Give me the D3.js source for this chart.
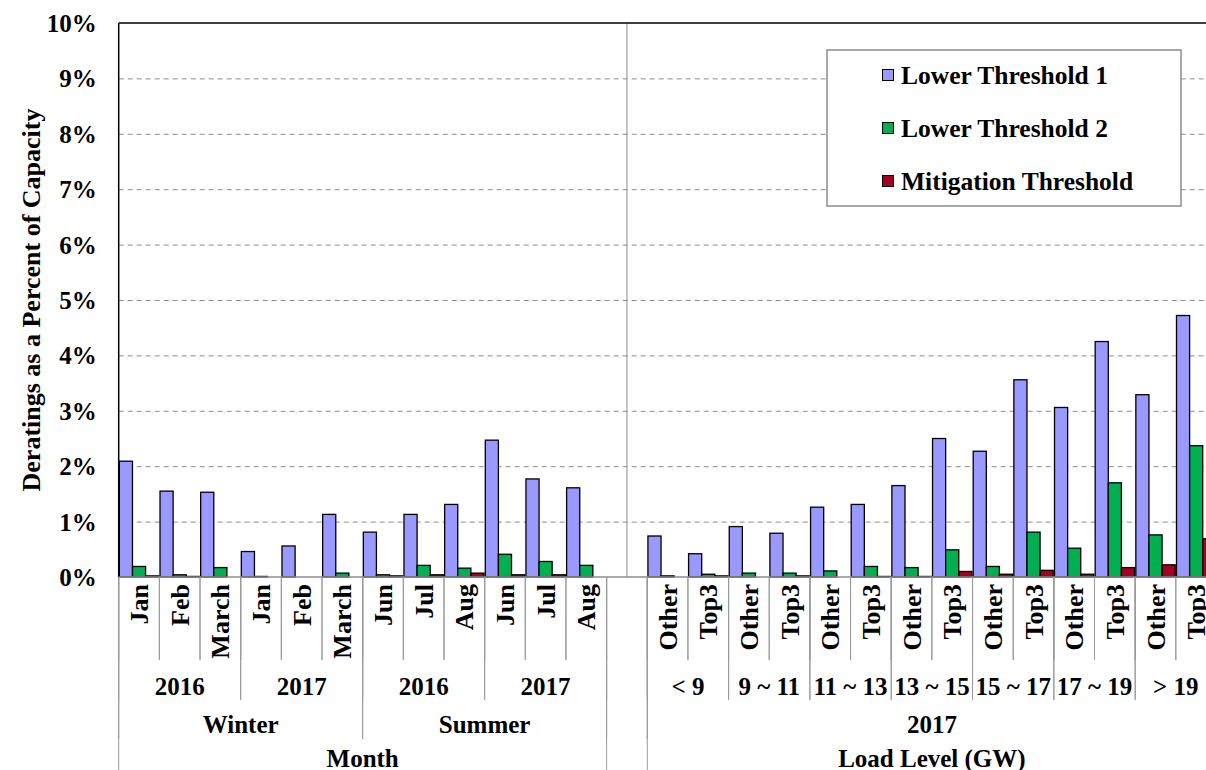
<!DOCTYPE html>
<html>
<head>
<meta charset="utf-8">
<script src="https://cdn.jsdelivr.net/npm/d3@7"></script>
<style>
  body { margin: 0; background: #fff; overflow: hidden; }
  text { font-family: "Liberation Serif", "Times New Roman", serif; font-weight: bold; fill: #000; }
</style>
</head>
<body>
<div id="chart"></div>
<script>
// categories
var monthNames = ["Jan","Feb","March","Jan","Feb","March","Jun","Jul","Aug","Jun","Jul","Aug"];
var monthYears = ["2016","2017","2016","2017"];
var seasons = ["Winter","Summer"];
var loadTypes = ["Other","Top3","Other","Top3","Other","Top3","Other","Top3","Other","Top3","Other","Top3","Other","Top3"];
var loadRanges = ["< 9","9 ~ 11","11 ~ 13","13 ~ 15","15 ~ 17","17 ~ 19","> 19"];
var loadYear = "2017";
var topGroups = ["Month","Load Level (GW)"];

// series (percent of capacity)
var seriesNames = ["Lower Threshold 1","Lower Threshold 2","Mitigation Threshold"];
var seriesColors = ["#9999FF","#00B050","#A50021"];
var lt1Month = [2.09,1.55,1.53,0.46,0.56,1.13,0.81,1.13,1.31,2.47,1.77,1.61];
var lt2Month = [0.19,0.04,0.17,0.01,0,0.07,0.04,0.21,0.16,0.41,0.28,0.21];
var mitMonth = [0.02,0.01,0,0,0,0,0.02,0.04,0.07,0.04,0.04,0];
var lt1Load = [0.74,0.42,0.91,0.79,1.26,1.31,1.65,2.50,2.27,3.56,3.06,4.25,3.29,4.72];
var lt2Load = [0.02,0.05,0.07,0.07,0.11,0.19,0.17,0.49,0.19,0.81,0.52,1.70,0.76,2.37];
var mitLoad = [0,0.02,0,0.02,0,0.01,0.01,0.10,0.05,0.12,0.05,0.17,0.22,0.69];

var yTicks = [0,1,2,3,4,5,6,7,8,9,10];

var W = 1206, H = 770;
var plotL = 118.7, plotR = 1216.5, plotT = 23, plotB = 577;

var rows = [];
monthNames.forEach(function(m, i) {
  rows.push({key: "m" + i, label: m, values: [lt1Month[i], lt2Month[i], mitMonth[i]]});
});
rows.push({key: "gap", label: "", values: []});
loadTypes.forEach(function(t, i) {
  rows.push({key: "l" + i, label: t, values: [lt1Load[i], lt2Load[i], mitLoad[i]]});
});

var svg = d3.select("#chart").append("svg")
  .attr("width", W)
  .attr("height", H);

var x = d3.scaleBand()
  .domain(rows.map(function(d) { return d.key; }))
  .range([plotL, plotR])
  .padding(0);

var x1 = d3.scaleBand()
  .domain([0,1,2])
  .range([0, x.bandwidth()])
  .paddingInner(0)
  .paddingOuter(0.05);

var y = d3.scaleLinear()
  .domain([0, 10])
  .range([plotB, plotT]);

// grid
svg.append("g")
  .attr("transform", "translate(" + plotL + ",0)")
  .call(d3.axisLeft(y).tickValues(yTicks.slice(1, 10)).tickSize(-(plotR - plotL)).tickFormat(""))
  .call(function(g) {
    g.select(".domain").remove();
    g.selectAll("line").attr("stroke", "#8c8c8c").attr("stroke-dasharray", "5,4");
  });

// separator between the two panels
svg.append("line")
  .attr("x1", x("gap") + x.bandwidth() / 2).attr("x2", x("gap") + x.bandwidth() / 2)
  .attr("y1", plotT).attr("y2", plotB)
  .attr("stroke", "#8c8c8c");

// bars
var cat = svg.selectAll(".cat").data(rows).enter().append("g")
  .attr("class", "cat")
  .attr("transform", function(d) { return "translate(" + x(d.key) + ",0)"; });

cat.selectAll("rect")
  .data(function(d) { return d.values.map(function(v, i) { return {i: i, v: v}; }).filter(function(o) { return o.v > 0; }); })
  .enter().append("rect")
  .attr("x", function(d) { return x1(d.i); })
  .attr("width", x1.bandwidth())
  .attr("y", function(d) { return y(d.v); })
  .attr("height", function(d) { return y(0) - y(d.v); })
  .attr("fill", function(d) { return seriesColors[d.i]; })
  .attr("stroke", "#000")
  .attr("stroke-width", 1.3);

// y axis
svg.append("g")
  .attr("transform", "translate(" + plotL + ",0)")
  .call(d3.axisLeft(y).tickValues(yTicks).tickSize(0).tickPadding(22).tickFormat(function(d) { return d + "%"; }))
  .call(function(g) {
    g.select(".domain").remove();
    g.selectAll("text").style("font-size", "25px").attr("dy", "0.34em");
  });

// frame
svg.append("line").attr("x1", plotL).attr("x2", plotR).attr("y1", plotT).attr("y2", plotT).attr("stroke", "#000").attr("stroke-width", 1.5);
svg.append("line").attr("x1", plotL).attr("x2", plotL).attr("y1", plotT).attr("y2", plotB).attr("stroke", "#000").attr("stroke-width", 1.5);
svg.append("line").attr("x1", plotL).attr("x2", plotR).attr("y1", plotB).attr("y2", plotB).attr("stroke", "#8c8c8c").attr("stroke-width", 1.5);

// y title
svg.append("text")
  .attr("transform", "translate(31,300) rotate(-90)")
  .attr("text-anchor", "middle")
  .attr("dy", "0.35em")
  .style("font-size", "26px")
  .text("Deratings as a Percent of Capacity");

// multi-level category axis
var levelBottom = [660, 700, 739, 800];
var axisLines = svg.append("g").attr("stroke", "#9a9a9a").attr("stroke-width", 1);

function edge(k1, k2, lvl) {
  var x0 = x(k1), xe = x(k2) + x.bandwidth();
  axisLines.append("line").attr("x1", x0).attr("x2", x0).attr("y1", plotB).attr("y2", levelBottom[lvl]);
  axisLines.append("line").attr("x1", xe).attr("x2", xe).attr("y1", plotB).attr("y2", levelBottom[lvl]);
  return (x0 + xe) / 2;
}

// level 1: category names
rows.forEach(function(d) {
  if (d.key === "gap") return;
  var cx = edge(d.key, d.key, 0);
  svg.append("text")
    .attr("transform", "translate(" + cx + ",584) rotate(-90)")
    .attr("text-anchor", "end")
    .attr("dy", "0.35em")
    .style("font-size", "26px")
    .text(d.label);
});

function groupLabel(k1, k2, lvl, yy, label) {
  var cx = edge(k1, k2, lvl);
  svg.append("text")
    .attr("x", cx).attr("y", yy)
    .attr("text-anchor", "middle")
    .attr("dy", "0.35em")
    .style("font-size", "25px")
    .text(label);
}

monthYears.forEach(function(yr, i) { groupLabel("m" + (i * 3), "m" + (i * 3 + 2), 1, 686, yr); });
loadRanges.forEach(function(r, i) { groupLabel("l" + (i * 2), "l" + (i * 2 + 1), 1, 686, r); });
seasons.forEach(function(s, i) { groupLabel("m" + (i * 6), "m" + (i * 6 + 5), 2, 724, s); });
groupLabel("l0", "l13", 2, 724, loadYear);
groupLabel("m0", "m11", 3, 758, topGroups[0]);
groupLabel("l0", "l13", 3, 758, topGroups[1]);

// legend
var lg = svg.append("g").attr("transform", "translate(827,50)");
lg.append("rect").attr("width", 354).attr("height", 156).attr("fill", "#fff").attr("stroke", "#8c8c8c").attr("stroke-width", 1.5);
seriesNames.forEach(function(n, i) {
  var cy = 25 + i * 53;
  lg.append("rect").attr("x", 55.5).attr("y", cy - 5.5).attr("width", 11).attr("height", 11)
    .attr("fill", seriesColors[i]).attr("stroke", "#000").attr("stroke-width", 1);
  lg.append("text").attr("x", 74).attr("y", cy).attr("dy", "0.35em").style("font-size", "25.5px").text(n);
});
</script>
</body>
</html>
